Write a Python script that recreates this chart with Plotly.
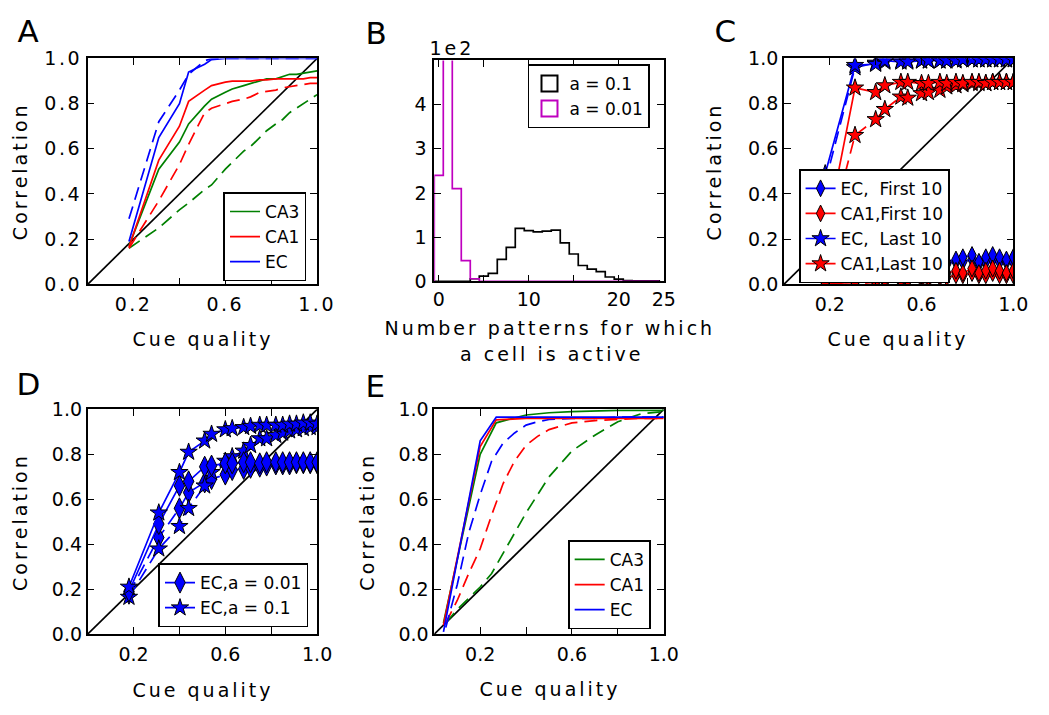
import plotly.graph_objects as go

FONT = "DejaVu Sans"
GREEN, RED, BLUE, MAGENTA, BLACK = "#008000", "#ff0000", "#0000ff", "#bf00bf", "#000000"

# ---------------- data ----------------
diag = [0.0, 1.0]
cue = [0.18, 0.31, 0.40, 0.44, 0.51, 0.54, 0.60, 0.63, 0.68, 0.71, 0.75, 0.78, 0.82, 0.85, 0.88, 0.91, 0.94, 0.97, 1.00]

# Panel A
a_ca3 = [0.17, 0.51, 0.63, 0.71, 0.79, 0.82, 0.85, 0.865, 0.88, 0.89, 0.90, 0.91, 0.91, 0.92, 0.93, 0.93, 0.935, 0.94, 0.945]
a_ca3_d = [0.16, 0.25, 0.33, 0.36, 0.42, 0.44, 0.51, 0.54, 0.59, 0.61, 0.65, 0.68, 0.71, 0.73, 0.76, 0.78, 0.80, 0.82, 0.84]
a_ca1 = [0.165, 0.55, 0.70, 0.81, 0.86, 0.88, 0.895, 0.90, 0.90, 0.90, 0.905, 0.905, 0.91, 0.91, 0.91, 0.91, 0.91, 0.915, 0.915]
a_ca1_d = [0.16, 0.37, 0.53, 0.62, 0.76, 0.78, 0.80, 0.81, 0.82, 0.83, 0.85, 0.855, 0.86, 0.87, 0.875, 0.88, 0.885, 0.89, 0.89]
a_ec = [0.19, 0.65, 0.80, 0.94, 0.975, 0.995, 1.0, 1.0, 1.0, 1.0, 1.0, 1.0, 1.0, 1.0, 1.0, 1.0, 1.0, 1.0, 1.0]
a_ec_d = [0.29, 0.72, 0.86, 0.93, 0.99, 1.0, 1.0, 1.0, 1.0, 1.0, 1.0, 1.0, 1.0, 1.0, 1.0, 1.0, 1.0, 1.0, 1.0]

# Panel B (counts of cells, axis shown in units of 1e2)
b_bins = list(range(0, 25))
b_a01 = [0, 0, 0, 0, 6, 12, 18, 50, 77, 120, 115, 112, 114, 116, 87, 62, 36, 28, 22, 10, 5, 2, 1, 1, 1]
b_a001 = [240, 700, 210, 47, 6, 0, 0, 0, 0, 0, 0, 0, 0, 0, 0, 0, 0, 0, 0, 0, 0, 0, 0, 0, 0]

# Panel C
c_ec_first = [0.02, 0.04, 0.05, 0.06, 0.07, 0.07, 0.08, 0.09, 0.10, 0.10, 0.11, 0.12, 0.13, 0.10, 0.12, 0.13, 0.12, 0.11, 0.12]
c_ec_first_d = [0.01, 0.03, 0.04, 0.05, 0.06, 0.06, 0.07, 0.08, 0.09, 0.09, 0.10, 0.10, 0.11, 0.09, 0.10, 0.11, 0.10, 0.10, 0.10]
c_ca1_first = [0.0, 0.01, 0.01, 0.02, 0.02, 0.02, 0.03, 0.03, 0.04, 0.05, 0.06, 0.05, 0.07, 0.05, 0.06, 0.07, 0.06, 0.05, 0.06]
c_ca1_first_d = [0.0, 0.0, 0.01, 0.01, 0.01, 0.02, 0.02, 0.02, 0.03, 0.03, 0.04, 0.04, 0.05, 0.04, 0.04, 0.05, 0.04, 0.04, 0.04]
c_ec_last = [0.49, 0.97, 0.975, 0.99, 0.985, 0.985, 0.99, 0.99, 0.99, 0.99, 0.99, 0.995, 0.995, 0.995, 0.995, 0.995, 0.995, 0.995, 0.995]
c_ec_last_d = [0.45, 0.96, 0.98, 0.985, 0.99, 0.99, 0.99, 0.99, 0.99, 0.99, 0.995, 0.995, 0.995, 0.995, 0.995, 0.995, 0.995, 0.995, 0.995]
c_ca1_last = [0.20, 0.87, 0.85, 0.88, 0.895, 0.895, 0.89, 0.89, 0.895, 0.89, 0.895, 0.89, 0.895, 0.895, 0.89, 0.895, 0.895, 0.895, 0.895]
c_ca1_last_d = [0.15, 0.66, 0.73, 0.775, 0.83, 0.825, 0.845, 0.85, 0.86, 0.875, 0.88, 0.885, 0.89, 0.89, 0.89, 0.895, 0.895, 0.895, 0.895]

# Panel D
d_a001 = [0.19, 0.49, 0.66, 0.68, 0.745, 0.75, 0.76, 0.76, 0.765, 0.765, 0.76, 0.765, 0.765, 0.765, 0.765, 0.765, 0.765, 0.765, 0.765]
d_a001_d = [0.18, 0.43, 0.56, 0.63, 0.675, 0.69, 0.71, 0.73, 0.735, 0.74, 0.745, 0.75, 0.755, 0.755, 0.755, 0.76, 0.76, 0.76, 0.76]
d_a01 = [0.21, 0.54, 0.72, 0.81, 0.86, 0.89, 0.91, 0.915, 0.92, 0.925, 0.93, 0.93, 0.93, 0.93, 0.935, 0.935, 0.94, 0.94, 0.935]
d_a01_d = [0.165, 0.38, 0.48, 0.56, 0.66, 0.72, 0.77, 0.79, 0.815, 0.84, 0.87, 0.87, 0.885, 0.895, 0.905, 0.91, 0.915, 0.92, 0.92]

# Panel E
e_cue = [0.04, 0.20, 0.27, 0.40, 0.50, 0.60, 0.80, 1.00]
e_ca3 = [0.05, 0.80, 0.94, 0.975, 0.985, 0.99, 0.995, 0.995]
e_ca1 = [0.04, 0.835, 0.953, 0.96, 0.96, 0.96, 0.96, 0.96]
e_ec = [0.01, 0.86, 0.965, 0.965, 0.965, 0.965, 0.965, 0.965]
e_cue_d = [0.05, 0.10, 0.15, 0.20, 0.25, 0.30, 0.35, 0.40, 0.45, 0.50, 0.60, 0.70, 0.80, 0.90, 1.00]
e_ca3_d = [0.05, 0.11, 0.16, 0.21, 0.27, 0.36, 0.45, 0.54, 0.62, 0.70, 0.815, 0.885, 0.945, 0.98, 0.99]
e_ca1_d = [0.05, 0.15, 0.27, 0.38, 0.53, 0.67, 0.77, 0.84, 0.88, 0.91, 0.94, 0.95, 0.955, 0.96, 0.96]
e_ec_d = [0.03, 0.22, 0.45, 0.62, 0.77, 0.85, 0.895, 0.93, 0.945, 0.955, 0.96, 0.96, 0.965, 0.965, 0.965]

cue_ticks = [0.2, 0.4, 0.6, 0.8, 1.0]
cue_ticktext = ["0.2", "", "0.6", "", "1.0"]
corr_ticks = [0.0, 0.2, 0.4, 0.6, 0.8, 1.0]
corr_ticktext = ["0.0", "0.2", "0.4", "0.6", "0.8", "1.0"]
b_xticks = [0, 5, 10, 15, 20, 25]
b_xticktext = ["0", "", "10", "", "20", "25"]
b_yticks = [0, 100, 200, 300, 400]
b_yticktext = ["0", "1", "2", "3", "4"]

# ---------------- figure ----------------
W, H = 1049, 715
fig = go.Figure()

DASH = "13px,7px"
LW = 1.7


def line(x, y, color, ax, dash="solid", name=None, legend=None, show=False):
    fig.add_trace(go.Scatter(x=x, y=y, mode="lines", xaxis="x" + ax, yaxis="y" + ax,
                             line=dict(color=color, width=LW, dash=dash), name=name,
                             showlegend=show, legend=legend, hoverinfo="skip"))


def marked(x, y, color, ax, symbol, size, dash="solid", name=None, legend=None, show=False):
    fig.add_trace(go.Scatter(x=x, y=y, mode="lines+markers", xaxis="x" + ax, yaxis="y" + ax,
                             line=dict(color=color, width=LW, dash=dash),
                             marker=dict(symbol=symbol, size=size, color=color,
                                         line=dict(color=BLACK, width=1)),
                             name=name, showlegend=show, legend=legend, hoverinfo="skip"))


# Panel A
line(diag, diag, BLACK, "")
line(cue, a_ca3_d, GREEN, "", DASH)
line(cue, a_ca1_d, RED, "", DASH)
line(cue, a_ec_d, BLUE, "", DASH)
line(cue, a_ca3, GREEN, "", name="CA3", legend="legend", show=True)
line(cue, a_ca1, RED, "", name="CA1", legend="legend", show=True)
line(cue, a_ec, BLUE, "", name="EC", legend="legend", show=True)


# Panel B: step histograms from bin centres
def step(centers, counts):
    edges = [c - 0.5 for c in centers] + [centers[-1] + 0.5]
    xs = [edges[0]] + edges
    ys = [0] + list(counts) + [0]
    return xs, ys


xs, ys = step(b_bins, b_a01)
fig.add_trace(go.Scatter(x=xs, y=ys, mode="lines", line=dict(color=BLACK, width=LW, shape="hv"),
                         xaxis="x2", yaxis="y2", showlegend=False, hoverinfo="skip"))
xs, ys = step(b_bins, b_a001)
fig.add_trace(go.Scatter(x=xs, y=ys, mode="lines", line=dict(color=MAGENTA, width=LW, shape="hv"),
                         xaxis="x2", yaxis="y2", showlegend=False, hoverinfo="skip"))
for nm, col in [("a = 0.1", BLACK), ("a = 0.01", MAGENTA)]:
    fig.add_trace(go.Scatter(x=[None], y=[None], mode="markers", xaxis="x2", yaxis="y2",
                             marker=dict(symbol="square-open", size=16, color=col, line=dict(width=2)),
                             name=nm, legend="legend2", showlegend=True))

# Panel C
DS_C, ST_C = 12, 13
line(diag, diag, BLACK, "3")
marked(cue, c_ec_first_d, BLUE, "3", "diamond-tall", DS_C, DASH)
marked(cue, c_ca1_first_d, RED, "3", "diamond-tall", DS_C, DASH)
marked(cue, c_ec_last_d, BLUE, "3", "star", ST_C, DASH)
marked(cue, c_ca1_last_d, RED, "3", "star", ST_C, DASH)
marked(cue, c_ec_first, BLUE, "3", "diamond-tall", DS_C, name="EC,\u00a0\u00a0First 10", legend="legend3", show=True)
marked(cue, c_ca1_first, RED, "3", "diamond-tall", DS_C, name="CA1,First 10", legend="legend3", show=True)
marked(cue, c_ec_last, BLUE, "3", "star", ST_C, name="EC,\u00a0\u00a0Last 10", legend="legend3", show=True)
marked(cue, c_ca1_last, RED, "3", "star", ST_C, name="CA1,Last 10", legend="legend3", show=True)

# Panel D
line(diag, diag, BLACK, "4")
marked(cue, d_a001_d, BLUE, "4", "diamond-tall", 15, DASH)
marked(cue, d_a01_d, BLUE, "4", "star", 13, DASH)
marked(cue, d_a001, BLUE, "4", "diamond-tall", 15, name="EC,a = 0.01", legend="legend4", show=True)
marked(cue, d_a01, BLUE, "4", "star", 13, name="EC,a = 0.1", legend="legend4", show=True)

# Panel E
line(diag, diag, BLACK, "5")
line(e_cue_d, e_ca3_d, GREEN, "5", DASH)
line(e_cue_d, e_ca1_d, RED, "5", DASH)
line(e_cue_d, e_ec_d, BLUE, "5", DASH)
line(e_cue, e_ca3, GREEN, "5", name="CA3", legend="legend5", show=True)
line(e_cue, e_ca1, RED, "5", name="CA1", legend="legend5", show=True)
line(e_cue, e_ec, BLUE, "5", name="EC", legend="legend5", show=True)

# ---------------- layout ----------------
TICKFONT = dict(family=FONT, size=19, color=BLACK)


def px_dom_x(a, b):
    return [a / W, b / W]


def px_dom_y(top, bottom):
    return [1 - bottom / H, 1 - top / H]


base = dict(showgrid=False, zeroline=False, showline=True, linecolor=BLACK, linewidth=1.6,
            mirror="ticks", ticks="inside", ticklen=7, tickwidth=1, tickcolor=BLACK,
            tickfont=TICKFONT, fixedrange=True)

panels = {
    "": (px_dom_x(88, 321), px_dom_y(49, 282)),
    "3": (px_dom_x(795, 1028), px_dom_y(49, 282)),
    "4": (px_dom_x(88, 321), px_dom_y(411, 643)),
    "5": (px_dom_x(440, 673), px_dom_y(411, 643)),
}
layout = {}
for ax, (dx, dy) in panels.items():
    layout["xaxis" + ax] = dict(base, domain=dx, anchor="y" + ax, range=[0, 1], tickvals=cue_ticks,
                                ticktext=cue_ticktext, ticklabelstandoff=2)
    layout["yaxis" + ax] = dict(base, domain=dy, anchor="x" + ax, range=[0, 1], tickvals=corr_ticks,
                                ticktext=corr_ticktext, ticklabelstandoff=0)

layout["xaxis2"] = dict(base, domain=px_dom_x(440, 673), anchor="y2", range=[-0.5, 25],
                        tickvals=b_xticks, ticktext=b_xticktext, ticklabelstandoff=0)
layout["yaxis2"] = dict(base, domain=px_dom_y(51, 279), anchor="x2", range=[0, 500],
                        tickvals=b_yticks, ticktext=b_yticktext, ticklabelstandoff=2)

leg = dict(bgcolor="white", bordercolor=BLACK, borderwidth=1.6, xanchor="center", yanchor="middle",
           font=dict(family=FONT, size=17, color=BLACK), itemwidth=30, tracegroupgap=0,
           itemclick=False, itemdoubleclick=False)
layout["legend"] = dict(leg, x=268 / W, y=1 - 233 / H)
layout["legend2"] = dict(leg, x=597 / W, y=1 - 88 / H)
layout["legend3"] = dict(leg, x=887 / W, y=1 - 222 / H)
layout["legend4"] = dict(leg, x=236 / W, y=1 - 603 / H)
layout["legend5"] = dict(leg, x=618 / W, y=1 - 592 / H)

ann = []


def text(s, x, y, size=19, angle=0):
    ann.append(dict(text=s, x=x / W, y=1 - y / H, xref="paper", yref="paper", showarrow=False,
                    xanchor="center", yanchor="middle", textangle=angle,
                    font=dict(family=FONT, size=size, color=BLACK)))


for letter, (x, y) in {"A": (29, 21), "B": (382, 23), "C": (737, 21), "D": (29, 385), "E": (382, 387)}.items():
    text(letter, x, y, size=31)
text("Cue quality", 205, 338)
text("Cue quality", 911, 338)
text("Cue quality", 205, 701)
text("Cue quality", 557, 700)
text("Correlation", 19, 165, angle=-90)
text("Correlation", 724, 165, angle=-90)
text("Correlation", 19, 527, angle=-90)
text("Correlation", 371, 527, angle=-90)
text("Number patterns for which", 557, 327)
text("a cell is active", 559, 354)
text("1e2", 458, 38, size=19)

fig.update_layout(width=W, height=H, margin=dict(l=0, r=0, t=0, b=0), paper_bgcolor="white",
                  plot_bgcolor="white", annotations=ann, font=dict(family=FONT, color=BLACK),
                  **layout)

post = ("var st=document.createElement('style');"
        "st.textContent='.xtick text,.ytick text{letter-spacing:2.5px}"
        " .annotation-text{letter-spacing:3px}';"
        "document.head.appendChild(st);")
fig.write_html("out.html", post_script=post, config={"displayModeBar": False})
